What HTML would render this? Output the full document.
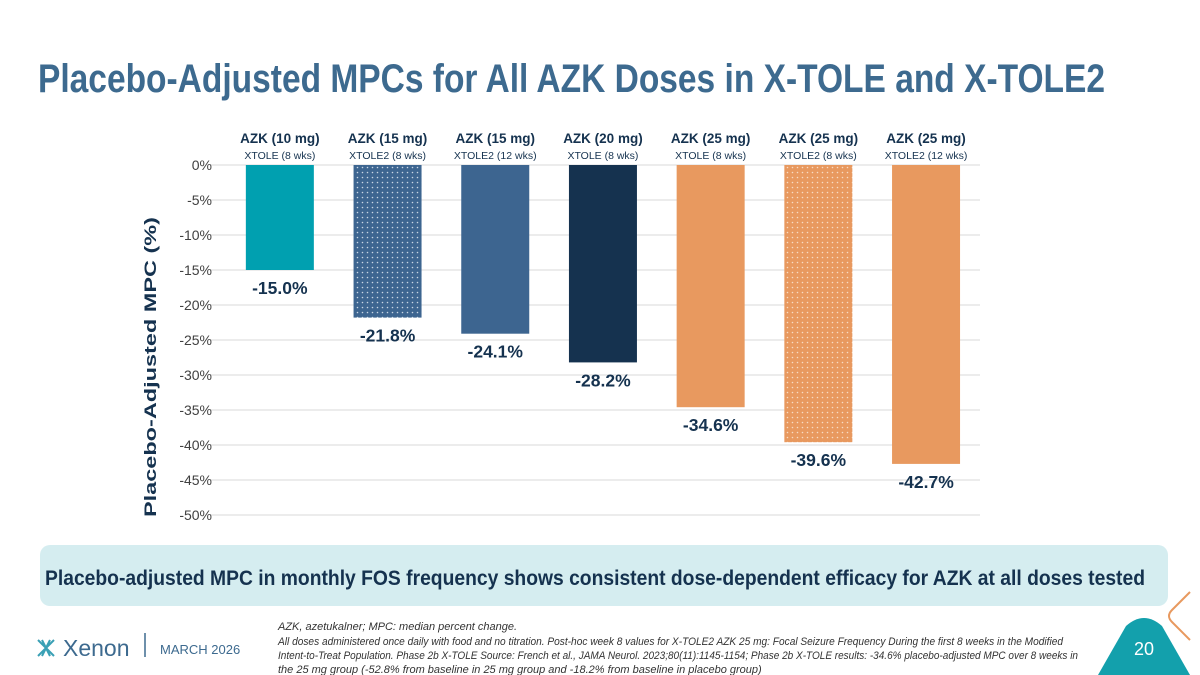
<!DOCTYPE html>
<html><head><meta charset="utf-8"><style>
html,body{margin:0;padding:0;background:#fff;width:1200px;height:675px;overflow:hidden}
svg{display:block;font-family:"Liberation Sans",sans-serif}
</style></head><body>
<svg id="s" width="1200" height="675" viewBox="0 0 1200 675">
<defs>
<pattern id="dotB" width="5" height="5" patternUnits="userSpaceOnUse"><rect width="5" height="5" fill="#3d6590"/><circle cx="2.5" cy="2.5" r="0.8" fill="#c9d6e4"/></pattern>
<pattern id="dotO" width="5" height="5" patternUnits="userSpaceOnUse"><rect width="5" height="5" fill="#e8995f"/><circle cx="2.5" cy="2.5" r="0.8" fill="#f7dcc4"/></pattern>
</defs>
<text x="38" y="92" font-size="40" font-weight="bold" fill="#3d6a8f" textLength="1067" lengthAdjust="spacingAndGlyphs">Placebo-Adjusted MPCs for All AZK Doses in X-TOLE and X-TOLE2</text>
<g id="grid"></g><g id="bars"></g>
<text transform="translate(156,367) rotate(-90)" text-anchor="middle" font-size="17" font-weight="bold" fill="#15324f" textLength="300" lengthAdjust="spacingAndGlyphs">Placebo-Adjusted MPC (%)</text>
<rect x="40" y="545" width="1128" height="61" rx="10" fill="#d5edf0"/>
<text x="595" y="585" text-anchor="middle" font-size="21" font-weight="bold" fill="#15324f" textLength="1100" lengthAdjust="spacingAndGlyphs">Placebo-adjusted MPC in monthly FOS frequency shows consistent dose-dependent efficacy for AZK at all doses tested</text>
<g stroke="#3aa0b5" stroke-width="2" fill="none">
<path d="M38 640 L54 656 M54 640 L38 656 M42 640 L50 656 M50 640 L42 656"/>
</g>
<text x="63" y="656" font-size="23" fill="#3d6a8f">Xenon</text>
<line x1="145" y1="633" x2="145" y2="657" stroke="#3d6a8f" stroke-width="1.5"/>
<text x="160" y="654" font-size="13" fill="#3d6a8f">MARCH 2026</text>
<g font-size="11" font-style="italic" fill="#333">
<text x="278" y="630">AZK, azetukalner; MPC: median percent change.</text>
<text x="278" y="645" textLength="785" lengthAdjust="spacingAndGlyphs">All doses administered once daily with food and no titration. Post-hoc week 8 values for X-TOLE2 AZK 25 mg: Focal Seizure Frequency During the first 8 weeks in the Modified</text>
<text x="278" y="659" textLength="800" lengthAdjust="spacingAndGlyphs">Intent-to-Treat Population. Phase 2b X-TOLE Source: French et al., JAMA Neurol. 2023;80(11):1145-1154; Phase 2b X-TOLE results: -34.6% placebo-adjusted MPC over 8 weeks in</text>
<text x="278" y="673">the 25 mg group (-52.8% from baseline in 25 mg group and -18.2% from baseline in placebo group)</text>
</g>
<path d="M1190 592 L1172 610 Q1166 616 1172 622 L1190 640" fill="none" stroke="#e8995f" stroke-width="2"/>
<path d="M1098 675 L1126 626 Q1144 610 1162 626 L1190 675 Z" fill="#13a0ac"/>
<text x="1144" y="655" text-anchor="middle" font-size="18" fill="#fff">20</text>
</svg>
<script>
const categories=["AZK (10 mg)","AZK (15 mg)","AZK (15 mg)","AZK (20 mg)","AZK (25 mg)","AZK (25 mg)","AZK (25 mg)"];
const subLabels=["XTOLE (8 wks)","XTOLE2 (8 wks)","XTOLE2 (12 wks)","XTOLE (8 wks)","XTOLE (8 wks)","XTOLE2 (8 wks)","XTOLE2 (12 wks)"];
const values=[-15.0,-21.8,-24.1,-28.2,-34.6,-39.6,-42.7];
const fills=["#00a0b0","url(#dotB)","#3d6590","#15324f","#e8995f","url(#dotO)","#e8995f"];
const yTicks=[0,-5,-10,-15,-20,-25,-30,-35,-40,-45,-50];
const NS="http://www.w3.org/2000/svg";
const x0=226,band=107.7,bw=68;
const y=v=>165+(-v)*7;
const xc=i=>x0+band*(i+0.5);
function mk(t,a,p,txt){const e=document.createElementNS(NS,t);for(const k in a)e.setAttribute(k,a[k]);if(txt!==undefined)e.textContent=txt;p.appendChild(e);return e;}
const G=document.getElementById('grid'),B=document.getElementById('bars');
yTicks.forEach(t=>{
 const l=mk('line',{x1:210,x2:980,y1:y(t),y2:y(t),stroke:'#d9d9d9','stroke-width':1},G);
 
 
 const tx=mk('text',{x:212,y:y(t)+5,'text-anchor':'end','font-size':14,fill:'#404040'},G,t+'%');
 
 
});
values.forEach((v,i)=>{
 const c=xc(i);
 const r=mk('rect',{x:c-bw/2,y:y(0),width:bw,height:y(v)-y(0),fill:fills[i]},B);
 
 
 const vl=mk('text',{x:c,y:y(v)+24,'text-anchor':'middle','font-size':17.5,'font-weight':'bold',fill:'#15324f'},B,v.toFixed(1)+'%');
 
 
 const cl=mk('text',{x:c,y:143,'text-anchor':'middle','font-size':13.5,'font-weight':'bold',fill:'#15324f'},B,categories[i]);
 
 
 const sl=mk('text',{x:c,y:159,'text-anchor':'middle','font-size':10.5,fill:'#15324f'},B,subLabels[i]);
 
 
});
</script>
</body></html>
